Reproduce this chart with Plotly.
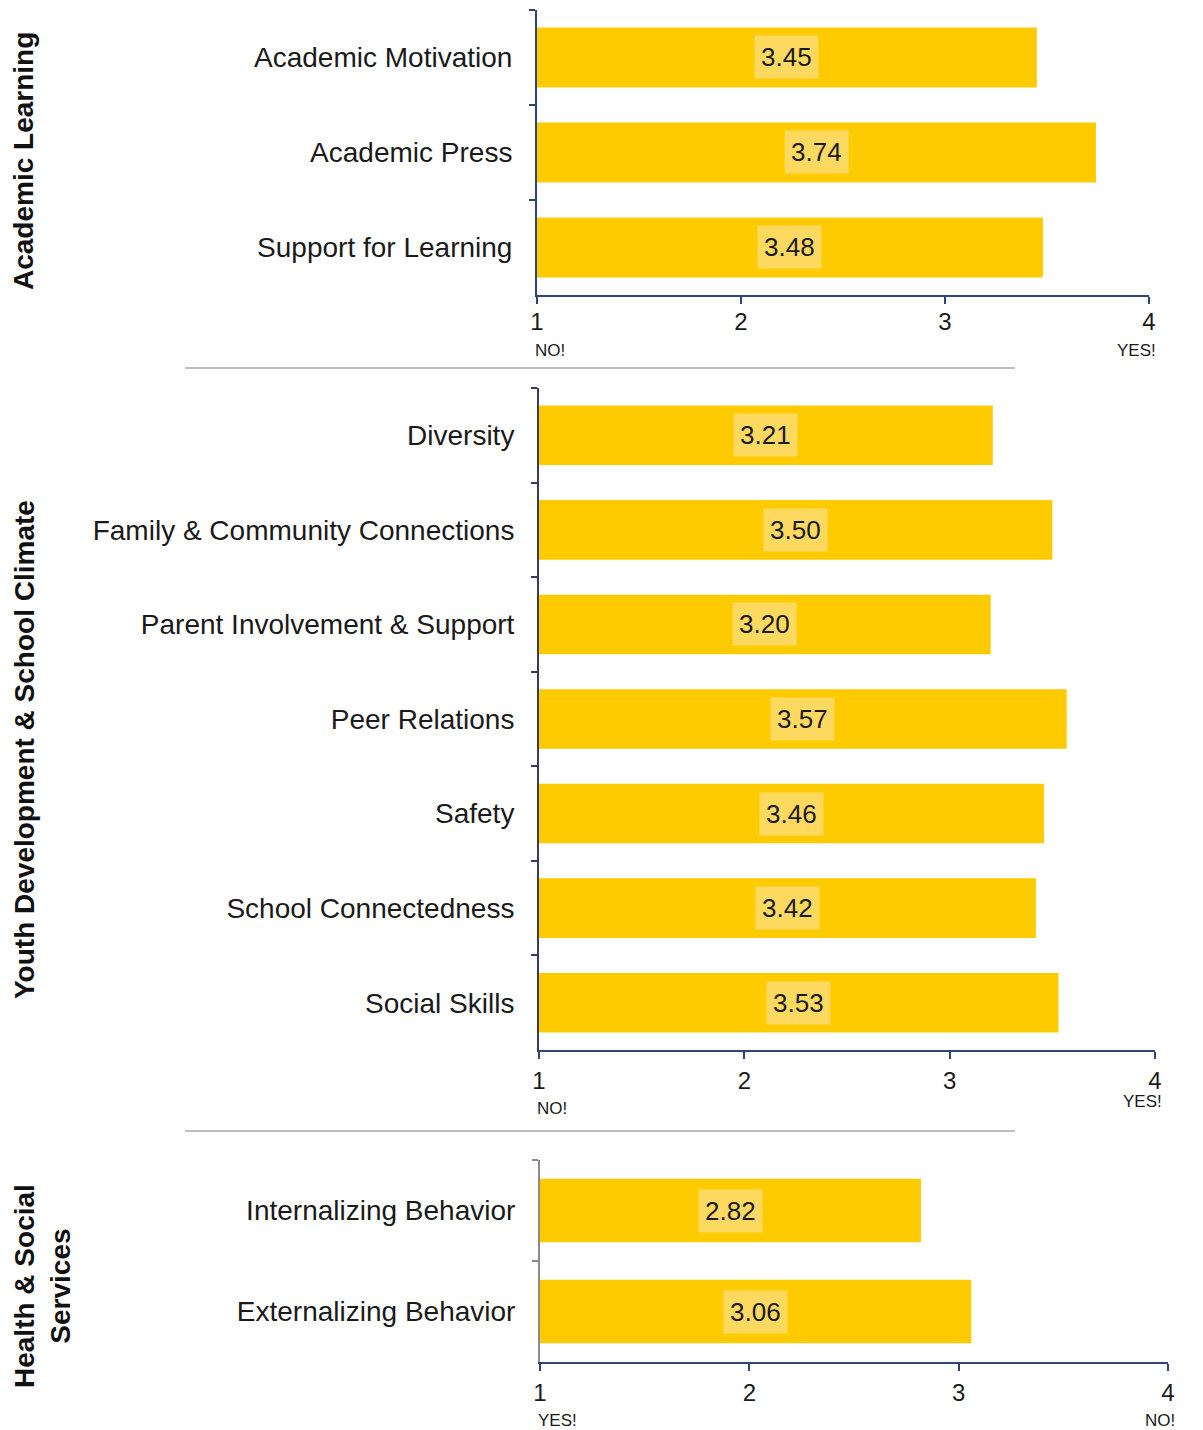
import plotly.graph_objects as go

# Survey domains, item names and mean scores (1-4 scale)
academic_items = ["Academic Motivation", "Academic Press", "Support for Learning"]
academic_scores = [3.45, 3.74, 3.48]

climate_items = ["Diversity", "Family & Community Connections", "Parent Involvement & Support",
                 "Peer Relations", "Safety", "School Connectedness", "Social Skills"]
climate_scores = [3.21, 3.50, 3.20, 3.57, 3.46, 3.42, 3.53]

health_items = ["Internalizing Behavior", "Externalizing Behavior"]
health_scores = [2.82, 3.06]

tick_values = [1, 2, 3, 4]
tick_labels = ["1", "2", "3", "4"]

BAR = "#FDCB00"
LABEL_BG = "#FDD960"
NAVY = "#2E4677"
FONT = "Liberation Sans, Arial, sans-serif"
NARROW = "Liberation Sans Narrow, Arial Narrow, Liberation Sans, sans-serif"
H = 1430
W = 1203

def py(px):
    return 1 - px / H

def px_x(px):
    return px / W

panels = [
    dict(items=academic_items, scores=academic_scores, x=(537, 1149), y=(10, 295),
         ycolor=NAVY, xstandoff=-3,
         left_note=("NO!", 350), right_note=("YES!", 350)),
    dict(items=climate_items, scores=climate_scores, x=(539, 1155), y=(388, 1050),
         ycolor="#3A3B5C", xstandoff=1,
         left_note=("NO!", 1108), right_note=("YES!", 1101)),
    dict(items=health_items, scores=health_scores, x=(540, 1168), y=(1160, 1362),
         ycolor="#8C8C8C", xstandoff=1,
         left_note=("YES!", 1420), right_note=("NO!", 1420)),
]

fig = go.Figure()
annotations = []
shapes = []

for i, p in enumerate(panels, start=1):
    xa = "x" if i == 1 else f"x{i}"
    ya = "y" if i == 1 else f"y{i}"
    fig.add_trace(go.Bar(
        x=p["scores"], y=p["items"], orientation="h",
        marker=dict(color=BAR, line=dict(width=0)),
        xaxis=xa, yaxis=ya, showlegend=False,
        hovertemplate="%{y}: %{x:.2f}<extra></extra>",
    ))
    xkey = "xaxis" if i == 1 else f"xaxis{i}"
    ykey = "yaxis" if i == 1 else f"yaxis{i}"
    fig.layout[xkey] = dict(
        domain=[px_x(p["x"][0]), px_x(p["x"][1])], range=[1, 4],
        anchor=ya, tickvals=tick_values, ticktext=tick_labels,
        ticks="outside", ticklen=7, tickwidth=2, tickcolor=NAVY,
        showline=True, linecolor=NAVY, linewidth=2, showgrid=False, zeroline=False,
        tickfont=dict(family=FONT, size=24, color="#1a1a1a"),
        ticklabelstandoff=p["xstandoff"], automargin=False, fixedrange=True,
    )
    fig.layout[ykey] = dict(
        domain=[py(p["y"][1]), py(p["y"][0])], anchor=xa,
        type="category", categoryorder="array", categoryarray=p["items"],
        autorange="reversed", tickson="boundaries",
        ticks="outside", ticklen=6, tickwidth=2, tickcolor=p["ycolor"],
        showline=True, linecolor=p["ycolor"], linewidth=2, showgrid=False,
        tickfont=dict(family=FONT, size=28, color="#1a1a1a"),
        ticklabelstandoff=17, automargin=False, fixedrange=True,
    )
    # score labels centred on each bar
    for item, v in zip(p["items"], p["scores"]):
        annotations.append(dict(
            x=(1 + v) / 2, y=item, xref=xa, yref=ya, text=f"{v:.2f}",
            showarrow=False, bgcolor=LABEL_BG, borderpad=6,
            font=dict(family=FONT, size=26, color="#1a1a1a"),
        ))
    # scale anchors under the axis ends
    lt, ly = p["left_note"]
    rt, ry = p["right_note"]
    annotations.append(dict(x=1, y=py(ly), xref=xa, yref="paper", text=lt, showarrow=False,
                            xanchor="left", yanchor="middle", xshift=-4,
                            font=dict(family=NARROW, size=17, color="#1a1a1a")))
    annotations.append(dict(x=4, y=py(ry), xref=xa, yref="paper", text=rt, showarrow=False,
                            xanchor="right", yanchor="middle", xshift=9,
                            font=dict(family=NARROW, size=17, color="#1a1a1a")))

# domain titles on the left
title_font = dict(family=FONT, size=28, color="#111111")
for text, cx, cy in [("<b>Academic Learning</b>", 24, 161),
                     ("<b>Youth Development & School Climate</b>", 24, 750),
                     ("<b>Health & Social<br>Services</b>", 42, 1286)]:
    annotations.append(dict(x=px_x(cx), y=py(cy), xref="paper", yref="paper",
                            text=text, textangle=-90, showarrow=False,
                            xanchor="center", yanchor="middle", font=title_font))

# separators between domains
for yy in (368, 1131):
    shapes.append(dict(type="line", xref="paper", yref="paper",
                       x0=px_x(185), x1=px_x(1015), y0=py(yy), y1=py(yy),
                       line=dict(color="#BDBDBD", width=2)))

fig.update_layout(
    width=W, height=H, margin=dict(l=0, r=0, t=0, b=0, autoexpand=False),
    paper_bgcolor="white", plot_bgcolor="white",
    bargap=0.37, annotations=annotations, shapes=shapes,
    font=dict(family=FONT),
)

fig.write_html("out.html")
